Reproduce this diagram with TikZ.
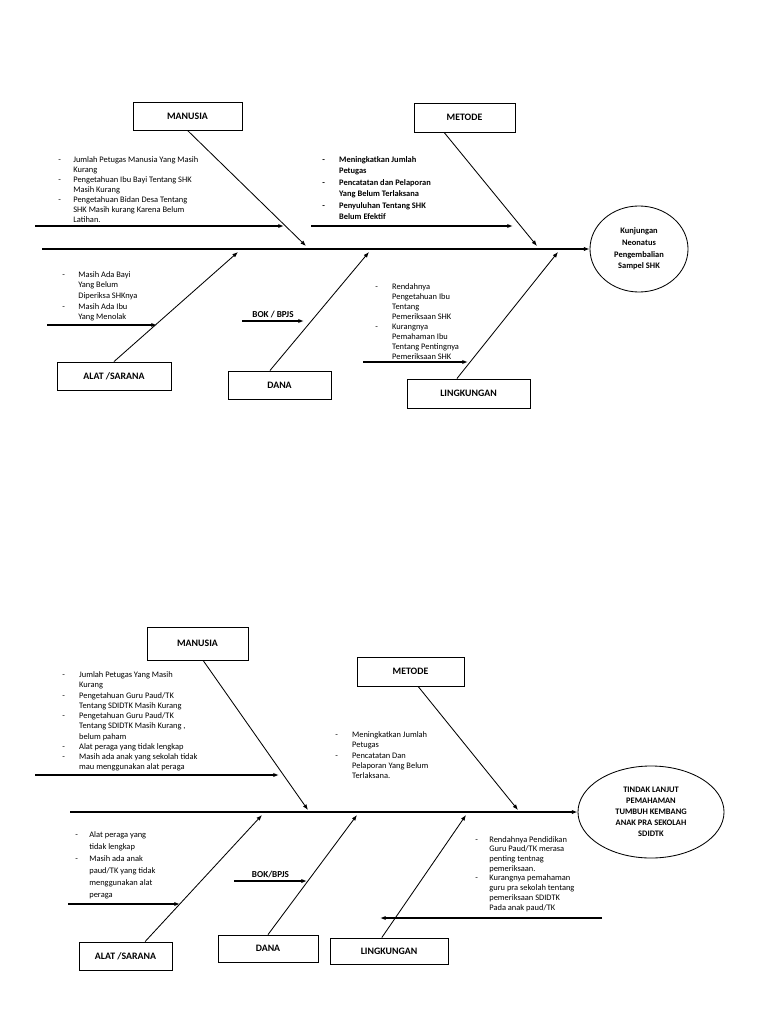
\documentclass[tikz,border=0pt]{standalone}
\usepackage{fontspec}
\setmainfont{Carlito}
\usetikzlibrary{arrows.meta,positioning,shapes.geometric}
\newcommand{\causelist}[2]{\begin{tabular}{@{}p{#1}@{}l@{}}#2\end{tabular}}

\begin{document}
\begin{tikzpicture}[
    x=0.025cm, y=-0.025cm,
    >={Latex[length=4pt,width=3pt]},
    category/.style={draw=black, line width=0.6pt, minimum height=0.7cm, inner sep=0pt, font=\fontsize{7}{8}\selectfont\bfseries},
    effect/.style={draw=black, line width=0.6pt, ellipse, inner sep=0pt, align=center},
    causes/.style={anchor=north west, inner sep=0pt, font=\fontsize{6}{#1}\selectfont},
    spine/.style={->, line width=0.9pt},
    bone/.style={->, line width=0.6pt},
    sub/.style={->, line width=0.8pt}
]
\useasboundingbox (0,0) rectangle (768,1024);

% ---------- first diagram ----------
\node[category, minimum width=2.725cm] (manusia1) at (187.5,116) {MANUSIA};
\node[category, minimum width=2.525cm, minimum height=0.725cm] (metode1) at (464.5,117.5) {METODE};
\node[category, minimum width=2.85cm] (alat1) at (114,376) {ALAT /SARANA};
\node[category, minimum width=2.575cm] (dana1) at (279.5,385) {DANA};
\node[category, minimum width=3.075cm, minimum height=0.725cm] (lingk1) at (468.5,393.5) {LINGKUNGAN};
\node[effect, minimum width=2.45cm, minimum height=2.15cm, font=\fontsize{6}{8.3}\selectfont\bfseries] (effect1) at (639,249) {Kunjungan\\Neonatus\\Pengembalian\\Sampel SHK};

\coordinate (s1) at (42,249);
\draw[spine] (s1) -- (effect1.west);

\coordinate (m1) at (306,246);
\coordinate (t1) at (537,246);
\coordinate (a1) at (238,252);
\coordinate (d1) at (369,252);
\coordinate (l1) at (558,252);
\draw[bone] (manusia1.south) -- (m1);
\draw[bone] ([xshift=-0.51cm]metode1.south) -- (t1);
\draw[bone] (alat1.north) -- (a1);
\draw[bone] ([xshift=-0.24cm]dana1.north) -- (d1);
\draw[bone] ([xshift=-0.29cm]lingk1.north) -- (l1);

\node[causes=7.1] (mcause1) at (58,155) {\causelist{10.7pt}{%
-&Jumlah Petugas Manusia Yang Masih\\ &Kurang\\
-&Pengetahuan Ibu Bayi Tentang SHK\\ &Masih Kurang\\
-&Pengetahuan Bidan Desa Tentang\\ &SHK Masih kurang Karena Belum\\ &Latihan.}};
\node[causes=8.1, font=\fontsize{6}{8.1}\selectfont\bfseries] (tcause1) at (322,154.3) {\causelist{12pt}{%
-&Meningkatkan Jumlah\\ &Petugas\\
-&Pencatatan dan Pelaporan\\ &Yang Belum Terlaksana\\
-&Penyuluhan Tentang SHK\\ &Belum Efektif}};
\node[causes=7.5] (acause1) at (62,269.7) {\causelist{11.4pt}{%
-&Masih Ada Bayi\\ &Yang Belum\\ &Diperiksa SHKnya\\
-&Masih Ada Ibu\\ &Yang Menolak}};
\node[causes=7.1] (lcause1) at (375,282) {\causelist{12pt}{%
-&Rendahnya\\ &Pengetahuan Ibu\\ &Tentang\\ &Pemeriksaan SHK\\
-&Kurangnya\\ &Pemahaman Ibu\\ &Tentang Pentingnya\\ &Pemeriksaan SHK}};

\coordinate (mtail1) at (35,226);
\coordinate (mtip1) at (284,226);
\coordinate (ttail1) at (311,226);
\coordinate (ttip1) at (513,226);
\coordinate (atail1) at (47,325);
\coordinate (atip1) at (157,325);
\coordinate (btail1) at (242,321);
\coordinate (btip1) at (304,321);
\coordinate (ltail1) at (363,362);
\coordinate (ltip1) at (468,362);
\draw[sub] (mtail1) -- (mtip1);
\draw[sub] (ttail1) -- (ttip1);
\draw[sub] (atail1) -- (atip1);
\draw[sub] (btail1) -- node[above=1pt, inner sep=1pt, font=\fontsize{6.5}{7}\selectfont\bfseries] (bok1) {BOK / BPJS} (btip1);
\draw[sub] (ltail1) -- (ltip1);

% ---------- second diagram ----------
\node[category, minimum width=2.525cm, minimum height=0.825cm] (manusia2) at (197.5,643.5) {MANUSIA};
\node[category, minimum width=2.675cm, minimum height=0.725cm] (metode2) at (410.5,671.5) {METODE};
\node[category, minimum width=2.325cm] (alat2) at (125.5,956) {ALAT /SARANA};
\node[category, minimum width=2.5cm, minimum height=0.675cm] (dana2) at (268,948.5) {DANA};
\node[category, minimum width=2.95cm, minimum height=0.65cm] (lingk2) at (389,951) {LINGKUNGAN};
\node[effect, minimum width=3.65cm, minimum height=2.3cm, font=\fontsize{6}{7.8}\selectfont\bfseries] (effect2) at (651,812) {TINDAK LANJUT\\PEMAHAMAN\\TUMBUH KEMBANG\\ANAK PRA SEKOLAH\\SDIDTK};

\coordinate (s2) at (70,812);
\draw[spine] (s2) -- (effect2.west);

\coordinate (m2) at (308,810);
\coordinate (t2) at (518,810);
\coordinate (a2) at (262,815);
\coordinate (d2) at (357,815);
\coordinate (l2) at (466,815);
\draw[bone] ([xshift=0.14cm]manusia2.south) -- (m2);
\draw[bone] ([xshift=0.19cm]metode2.south) -- (t2);
\draw[bone] ([xshift=0.49cm]alat2.north) -- (a2);
\draw[bone] (dana2.north) -- (d2);
\draw[bone] ([xshift=-0.18cm]lingk2.north) -- (l2);

\node[causes=7.3] (mcause2) at (62,670) {\causelist{12pt}{%
-&Jumlah Petugas Yang Masih\\ &Kurang\\
-&Pengetahuan Guru Paud/TK\\ &Tentang SDIDTK Masih Kurang\\
-&Pengetahuan Guru Paud/TK\\ &Tentang SDIDTK Masih Kurang ,\\ &belum paham\\
-&Alat peraga yang tidak lengkap\\
-&Masih ada anak yang sekolah tidak\\ &mau menggunakan alat peraga}};
\node[causes=7.3] (tcause2) at (335,730) {\causelist{12pt}{%
-&Meningkatkan Jumlah\\ &Petugas\\
-&Pencatatan Dan\\ &Pelaporan Yang Belum\\ &Terlaksana.}};
\node[causes=8.5] (acause2) at (75,829) {\causelist{10pt}{%
-&Alat peraga yang\\ &tidak lengkap\\
-&Masih ada anak\\ &paud/TK yang tidak\\ &menggunakan alat\\ &peraga}};
\node[causes=6.9] (lcause2) at (475,835) {\causelist{10pt}{%
-&Rendahnya Pendidikan\\ &Guru Paud/TK merasa\\ &penting tentnag\\ &pemeriksaan.\\
-&Kurangnya pemahaman\\ &guru pra sekolah tentang\\ &pemeriksaan SDIDTK\\ &Pada anak paud/TK}};

\coordinate (mtail2) at (35,775);
\coordinate (mtip2) at (279,775);
\coordinate (atail2) at (68,904);
\coordinate (atip2) at (180,904);
\coordinate (btail2) at (234,881);
\coordinate (btip2) at (307,881);
\coordinate (ltail2) at (602,918);
\coordinate (ltip2) at (380,918);
\draw[sub] (mtail2) -- (mtip2);
\draw[sub] (atail2) -- (atip2);
\draw[sub] (btail2) -- node[above=1pt, inner sep=1pt, font=\fontsize{6.5}{7}\selectfont\bfseries] (bok2) {BOK/BPJS} (btip2);
\draw[sub] (ltail2) -- (ltip2);
\end{tikzpicture}
\end{document}
